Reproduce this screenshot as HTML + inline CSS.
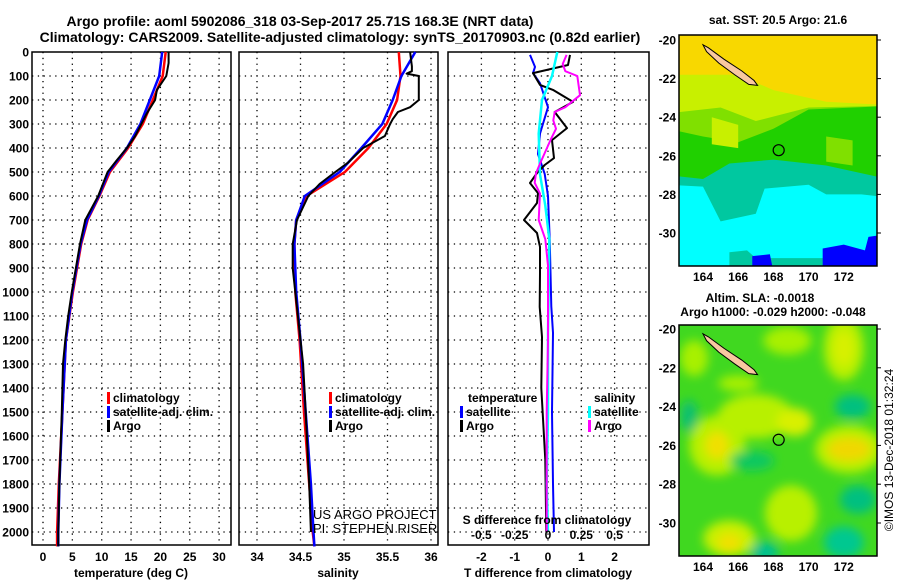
<!DOCTYPE html>
<html><head><meta charset="utf-8">
<style>
body{margin:0;background:#fff;}
svg{display:block;font-family:"Liberation Sans",sans-serif;font-weight:bold;}
</style></head>
<body>
<svg id="c" width="900" height="580" viewBox="0 0 900 580">
<defs><filter id="bl" x="-50%" y="-50%" width="200%" height="200%"><feGaussianBlur stdDeviation="5"/></filter></defs>
<text x="300" y="26" font-size="14" text-anchor="middle">Argo profile: aoml 5902086_318 03-Sep-2017 25.71S 168.3E (NRT data)</text>
<text x="340" y="42" font-size="14" text-anchor="middle">Climatology: CARS2009. Satellite-adjusted climatology: synTS_20170903.nc (0.82d earlier)</text>
<g id="plots"></g>
<g id="maps"></g>
</svg>
<script>
// ---- data ----
const depthTicks=[0,100,200,300,400,500,600,700,800,900,1000,1100,1200,1300,1400,1500,1600,1700,1800,1900,2000];
const tTicks=[0,5,10,15,20,25,30];
const sTicks=[34,34.5,35,35.5,36];
const sTickLabels=['34','34.5','35','35.5','36'];
const dTTicks=[-2,-1,0,1,2];
const dSTicks=[-0.5,-0.25,0,0.25,0.5];
const dSTickLabels=['-0.5','-0.25','0','0.25','0.5'];

const tArgoDepth=[0,46,100,158,200,255,350,400,450,500,600,700,800,900,1000,1100,1200,1300,1500,1800,2000,2060];
const tArgo=[21.4,21.4,21.0,19.4,19.1,17.7,15.7,14.3,12.6,11.0,9.4,7.2,6.3,5.6,4.9,4.3,3.8,3.4,3.2,2.8,2.6,2.6];
const tClimDepth=[0,100,200,300,400,500,600,700,800,1000,1200,1500,1800,2000,2060];
const tClim=[20.9,20.4,18.7,17.0,14.5,11.4,9.6,7.6,6.5,5.1,3.9,3.3,2.7,2.4,2.4];
const tSatDepth=[0,100,200,300,400,500,600,700,800,1000,1200,1500,1800,2000,2060];
const tSat=[20.3,19.8,18.2,16.6,14.3,11.2,9.5,7.5,6.4,5.0,3.9,3.3,2.8,2.6,2.6];

const sArgoDepth=[0,60,80,90,100,200,230,250,280,300,350,400,460,500,550,600,700,800,900,1000,1100,1200,1300,1500,1800,2000];
const sArgo=[35.76,35.78,35.78,35.72,35.86,35.86,35.76,35.62,35.56,35.53,35.47,35.22,35.05,34.9,34.72,34.59,34.46,34.41,34.41,34.44,34.47,34.5,34.53,34.56,34.6,34.62];
const sClimDepth=[0,100,200,300,400,500,600,700,800,1000,1200,1500,1800,2000,2060];
const sClim=[35.63,35.65,35.61,35.49,35.28,35.01,34.57,34.45,34.43,34.44,34.49,34.54,34.6,34.64,34.66];
const sSatDepth=[0,100,200,300,400,500,600,700,800,1000,1200,1500,1800,2000,2060];
const sSat=[35.82,35.66,35.56,35.44,35.2,34.95,34.55,34.45,34.43,34.45,34.5,34.56,34.62,34.65,34.66];

const dTArgoDepth=[12,54,88,137,158,208,250,317,367,442,471,504,546,588,629,700,754,812,921,1062,1188,1400,1700,2000];
const dTArgo=[0.66,0.6,-0.45,-0.24,0.15,0.75,0.2,0.57,0.12,0.18,-0.1,-0.33,-0.54,-0.3,-0.33,-0.72,-0.33,-0.24,-0.24,-0.25,-0.18,-0.2,-0.08,-0.05];
const dTSatDepth=[12,62,88,130,230,340,425,508,600,780,1060,1170,1500,1800,2000];
const dTSat=[-0.54,-0.39,-0.45,-0.24,0.0,-0.24,-0.3,-0.1,0.0,0.05,0.1,0.15,0.12,0.15,0.18];
const dSSatDepth=[0,100,200,340,510,640,780,1170,1500,1800,2000];
const dSSat=[0.07,0.03,-0.045,-0.07,-0.06,-0.02,0.01,0.0,0.0,-0.01,0.0];
const dSArgoDepth=[12,50,80,100,180,230,250,285,320,365,465,505,545,590,700,780,890,1200,1500,1800,2000];
const dSArgo=[0.14,0.11,0.13,0.22,0.24,0.13,0.05,0.04,0.06,0.02,-0.06,-0.09,-0.1,-0.06,-0.07,-0.02,0.0,0.0,-0.01,-0.01,-0.01];

// ---- helpers ----
const NS='http://www.w3.org/2000/svg';
const plots=document.getElementById('plots');
function mk(tag,attrs,parent){const e=document.createElementNS(NS,tag);for(const k in attrs)e.setAttribute(k,attrs[k]);(parent||plots).appendChild(e);return e;}
const Y0=52,Y1=545;
const yD=d=>Y0+d*0.24;
const xT=t=>43+t*5.87;
const xS=s=>257+(s-34)*87;
const xDT=t=>548+t*33.3;
const xDS=s=>548+s*133.2;

function panel(name,x0,x1,vgrid){
  const g=mk('g',{});
  
  
  depthTicks.forEach(d=>{if(d>0){const l=mk('line',{x1:x0,x2:x1,y1:yD(d),y2:yD(d),stroke:'#000','stroke-width':1.3,'stroke-dasharray':'1.3 4.5'},g);}});
  vgrid.forEach(x=>{const l=mk('line',{x1:x,x2:x,y1:Y0,y2:Y1,stroke:'#000','stroke-width':1.3,'stroke-dasharray':'1.3 4.5'},g);});
  const r=mk('rect',{x:x0,y:Y0,width:x1-x0,height:Y1-Y0,fill:'none',stroke:'#000','stroke-width':1.5},g);
  
  return g;
}
function line(g,name,xs,ds,fx,col,w){
  const pts=xs.map((v,i)=>fx(v).toFixed(1)+','+yD(ds[i]).toFixed(1)).join(' ');
  const p=mk('polyline',{points:pts,fill:'none',stroke:col,'stroke-width':w||2,'stroke-linejoin':'round'},g);
  
  
}
function txt(s,x,y,attrs,g,name){const t=mk('text',Object.assign({x:x,y:y,'font-size':12},attrs||{}),g);t.textContent=s;return t;}
function legend(g,x,y,col,label,name){const r=mk('rect',{x:x,y:y-10,width:3,height:12,fill:col},g);txt(label,x+6,y,{},g,name);}

const yax=mk('g',{});
depthTicks.forEach(d=>txt(String(d),29,yD(d)+4.5,{'text-anchor':'end'},yax,'depth-tick-label'));

const p1=panel('temperature-panel',32,231,tTicks.map(xT));
line(p1,'temp-climatology-line',tClim,tClimDepth,xT,'#f00',2.5);
line(p1,'temp-satellite-line',tSat,tSatDepth,xT,'#00f',2.5);
line(p1,'temp-argo-line',tArgo,tArgoDepth,xT,'#000',2);
tTicks.forEach(t=>txt(String(t),xT(t),561,{'text-anchor':'middle'},p1,'temp-tick-label'));
txt('temperature (deg C)',131,577,{'text-anchor':'middle'},p1,'temp-axis-title');
legend(p1,107,402,'#f00','climatology','legend-climatology');
legend(p1,107,416,'#00f','satellite-adj. clim.','legend-satellite');
legend(p1,107,430,'#000','Argo','legend-argo');

const p2=panel('salinity-panel',239,438,sTicks.map(xS));
line(p2,'sal-climatology-line',sClim,sClimDepth,xS,'#f00',2.5);
line(p2,'sal-satellite-line',sSat,sSatDepth,xS,'#00f',2.5);
line(p2,'sal-argo-line',sArgo,sArgoDepth,xS,'#000',2);
sTicks.forEach((s,i)=>txt(sTickLabels[i],xS(s),561,{'text-anchor':'middle'},p2,'sal-tick-label'));
txt('salinity',338,577,{'text-anchor':'middle'},p2,'sal-axis-title');
legend(p2,329,402,'#f00','climatology','legend-climatology');
legend(p2,329,416,'#00f','satellite-adj. clim.','legend-satellite');
legend(p2,329,430,'#000','Argo','legend-argo');
txt('US ARGO PROJECT',313,519,{'font-weight':'normal','font-size':13},p2,'credit-project');
txt('PI: STEPHEN RISER',313,533,{'font-weight':'normal','font-size':13},p2,'credit-pi');

const p3=panel('difference-panel',448,649,dTTicks.map(xDT));
line(p3,'dt-satellite-line',dTSat,dTSatDepth,xDT,'#00f',2);
line(p3,'dt-argo-line',dTArgo,dTArgoDepth,xDT,'#000',2);
line(p3,'ds-satellite-line',dSSat,dSSatDepth,xDS,'#0ff',2.5);
line(p3,'ds-argo-line',dSArgo,dSArgoDepth,xDS,'#f0f',2);
dTTicks.forEach(t=>txt(String(t),xDT(t),561,{'text-anchor':'middle'},p3,'dt-tick-label'));
txt('T difference from climatology',548,577,{'text-anchor':'middle'},p3,'dt-axis-title');
txt('S difference from climatology',547,524,{'text-anchor':'middle'},p3,'ds-axis-title');
dSTicks.forEach((s,i)=>txt(dSTickLabels[i],xDS(s),539,{'text-anchor':'middle'},p3,'ds-tick-label'));
txt('temperature',468,402,{},p3,'legend-temperature-heading');
legend(p3,460,416,'#00f','satellite','legend-t-satellite');
legend(p3,460,430,'#000','Argo','legend-t-argo');
txt('salinity',594,402,{},p3,'legend-salinity-heading');
legend(p3,588,416,'#0ff','satellite','legend-s-satellite');
legend(p3,588,430,'#f0f','Argo','legend-s-argo');

const maps=document.getElementById('maps');
function mapAxes(g,x0,x1,y0,y1,latY){
  const lon=v=>703+(v-164)*17.6;
  [-20,-22,-24,-26,-28,-30].forEach(v=>{mk('line',{x1:x1,x2:x1+4,y1:latY(v),y2:latY(v),stroke:'#000'},g);txt(String(v),676,latY(v)+4.5,{'text-anchor':'end'},g,'lat-tick-label');});
  [164,166,168,170,172].forEach(v=>txt(String(v),lon(v),y1+15,{'text-anchor':'middle'},g,'lon-tick-label'));
}
function island(g,lon,lat){
  const pts=[[164,-20.25],[164.3,-20.4],[165.2,-21.0],[166.2,-21.6],[166.9,-22.1],[167.1,-22.35],[166.6,-22.3],[165.8,-21.8],[164.9,-21.2],[164.2,-20.6]];
  const p=mk('polygon',{points:pts.map(q=>lon(q[0])+','+lat(q[1])).join(' '),fill:'#f8c8a0',stroke:'#000','stroke-width':1},g);
  
  const m=mk('circle',{cx:lon(168.3),cy:lat(-25.71),r:5.5,fill:'none',stroke:'#000','stroke-width':1.2},g);
  
}
(function(){
  const g=mk('g',{},maps);
  const x0=679,x1=877,y0=35,y1=266;
  const lon=v=>703+(v-164)*17.6, lat=v=>40+(-20-v)*19.3;
  const clip=mk('clipPath',{id:'c1'},g);mk('rect',{x:x0,y:y0,width:x1-x0,height:y1-y0},clip);
  const b=mk('g',{'clip-path':'url(#c1)'},g);
  mk('rect',{x:x0,y:y0,width:198,height:231,fill:'#f8d800'},b);
  const P=(a,col)=>mk('polygon',{points:a.map(q=>lon(q[0])+','+lat(q[1])).join(' '),fill:col},b);
  P([[162,-21.8],[166,-21.8],[168,-22.6],[171,-23.2],[175,-23.4],[175,-33],[162,-33]],'#c8f000');
  P([[162,-23.8],[165,-23.5],[167,-24.2],[170,-23.5],[175,-23.4],[175,-33],[162,-33]],'#80e000');
  P([[162,-24.6],[164,-25],[166,-25.3],[168,-24.6],[170,-23.6],[175,-23.4],[175,-33],[162,-33]],'#20d000');
  P([[162,-27],[164,-27.2],[165.5,-26.4],[168,-26.2],[171,-26.5],[175,-27.3],[175,-33],[162,-33]],'#00c8a0');
  P([[162,-27.5],[164,-27.6],[165,-29.4],[167,-29],[167.5,-27.7],[170,-27.5],[171,-28],[173,-28],[175,-28.2],[175,-33],[162,-33]],'#00ffff');
  P([[165.5,-31],[166.5,-30.9],[167,-31.3],[175,-31.3],[175,-33],[165.5,-33]],'#00c8a0');
  P([[170.8,-30.8],[172,-30.6],[173.2,-30.9],[173.4,-30.2],[175,-30],[175,-33],[170.8,-33]],'#0000ff');
  P([[166.8,-31.2],[167.8,-31.1],[168,-32],[166.8,-32]],'#0000ff');
  P([[164.5,-24],[166,-24.4],[166,-25.6],[164.5,-25.4]],'#c8f000');
  P([[171,-25],[172.5,-25.2],[172.5,-26.5],[171,-26.3]],'#80e000');
  island(b,lon,lat);
  mk('rect',{x:x0,y:y0,width:x1-x0,height:y1-y0,fill:'none',stroke:'#000','stroke-width':1.5},g);
  mapAxes(g,x0,x1,y0,y1,lat);
  txt('sat. SST: 20.5 Argo: 21.6',778,24,{'text-anchor':'middle'},g,'sst-map-title');
})();
(function(){
  const g=mk('g',{},maps);
  const x0=679,x1=877,y0=325,y1=556;
  const lon=v=>703+(v-164)*17.6, lat=v=>329+(-20-v)*19.4;
  const clip=mk('clipPath',{id:'c2'},g);mk('rect',{x:x0,y:y0,width:x1-x0,height:y1-y0},clip);
  const b=mk('g',{'clip-path':'url(#c2)'},g);
  mk('rect',{x:x0,y:y0,width:198,height:231,fill:'#40d820'},b);
  const bb=mk('g',{filter:'url(#bl)'},b);
  const E=(lo,la,rx,ry,col)=>mk('ellipse',{cx:lon(lo),cy:lat(la),rx:rx,ry:ry,fill:col},bb);
  E(164.8,-26,28,30,'#b8f000');E(164.8,-26,12,14,'#f0e000');
  E(167,-24.5,38,22,'#b8f000');E(169.2,-24.8,18,14,'#d8f000');
  E(172.3,-26.2,34,24,'#b8f000');E(172.3,-26.2,22,12,'#f0d800');
  E(172,-21,20,32,'#b8f000');E(172,-21,10,18,'#d8f000');
  E(168.8,-20.6,24,14,'#a8f000');
  E(169,-29.5,26,28,'#b8f000');E(165.5,-30.8,26,18,'#c8f000');E(165.5,-31,12,9,'#f0e000');
  E(163.5,-21.5,14,18,'#a8f000');E(166,-22.8,20,8,'#a8f000');
  E(172,-31,20,16,'#00c890');E(172.5,-24,18,12,'#00c080');E(163.2,-24.5,9,16,'#10c070');
  E(167.5,-31.5,14,10,'#00c090');E(172.8,-28.8,18,14,'#00c080');E(166.8,-26.8,22,10,'#10c860');
  island(b,lon,lat);
  mk('rect',{x:x0,y:y0,width:x1-x0,height:y1-y0,fill:'none',stroke:'#000','stroke-width':1.5},g);
  mapAxes(g,x0,x1,y0,y1,lat);
  txt('Altim. SLA: -0.0018',760,302,{'text-anchor':'middle'},g,'sla-map-title');
  txt('Argo h1000: -0.029 h2000: -0.048',773,316,{'text-anchor':'middle'},g,'sla-argo-heights');
  txt('©IMOS 13-Dec-2018 01:32:24',893,450,{'text-anchor':'middle','font-weight':'normal','transform':'rotate(-90 893 450)'},g,'imos-credit');
})();
</script>
</body></html>
